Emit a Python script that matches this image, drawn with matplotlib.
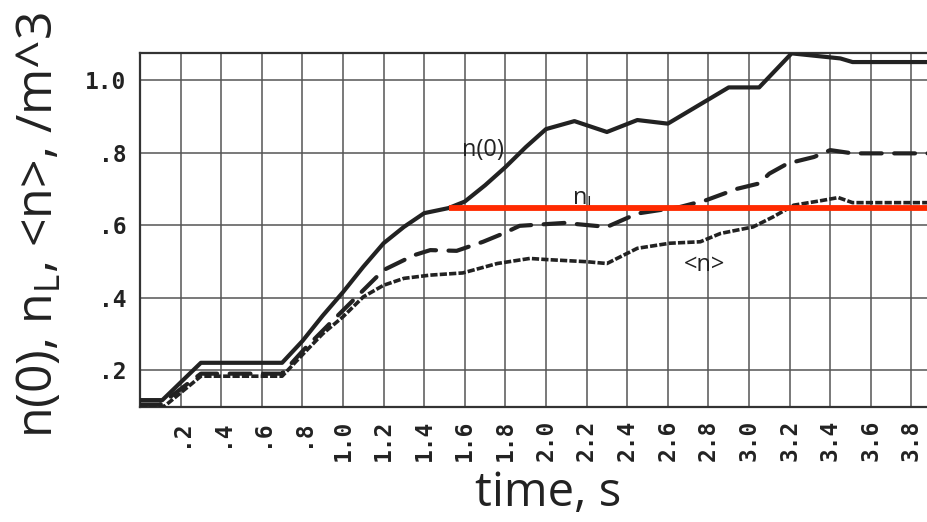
import numpy as np
import matplotlib
matplotlib.use("Agg")
from matplotlib import pyplot as plt

# values
t_n0 = [0.0, 0.11, 0.30, 0.70, 0.80, 0.90, 1.00, 1.10, 1.20, 1.30, 1.40, 1.52, 1.60, 1.70,
        1.80, 1.90, 2.00, 2.14, 2.30, 2.45, 2.60, 2.90, 3.05, 3.21, 3.45, 3.51, 3.90]
n0 = [0.117, 0.117, 0.22, 0.22, 0.28, 0.35, 0.415, 0.485, 0.55, 0.595, 0.633, 0.647, 0.665, 0.71,
      0.76, 0.815, 0.865, 0.887, 0.857, 0.89, 0.88, 0.98, 0.98, 1.074, 1.06, 1.05, 1.05]

t_mid = [0.0, 0.10, 0.30, 0.70, 0.805, 0.936, 1.067, 1.20, 1.35, 1.43, 1.56, 1.69, 1.79, 1.87,
         2.09, 2.30, 2.45, 2.66, 2.79, 2.94, 3.05, 3.10, 3.19, 3.32, 3.40, 3.51, 3.90]
n_mid = [0.105, 0.105, 0.19, 0.19, 0.255, 0.329, 0.402, 0.476, 0.517, 0.531, 0.529, 0.554, 0.577, 0.598,
         0.606, 0.595, 0.632, 0.65, 0.669, 0.70, 0.715, 0.742, 0.77, 0.788, 0.807, 0.798, 0.798]

t_avg = [0.0, 0.12, 0.30, 0.70, 0.805, 0.90, 1.00, 1.10, 1.20, 1.30, 1.43, 1.59, 1.76, 1.92,
         2.00, 2.20, 2.30, 2.45, 2.61, 2.76, 2.86, 3.02, 3.12, 3.22, 3.35, 3.44, 3.51, 3.90]
n_avg = [0.10, 0.10, 0.183, 0.183, 0.245, 0.30, 0.347, 0.402, 0.434, 0.453, 0.462, 0.468, 0.494, 0.508,
         0.505, 0.499, 0.494, 0.536, 0.55, 0.554, 0.577, 0.595, 0.623, 0.655, 0.667, 0.676, 0.662, 0.662]

t_nl = [1.52, 3.90]
n_l = [0.648, 0.648]

xticks = [0.2, 0.4, 0.6, 0.8, 1.0, 1.2, 1.4, 1.6, 1.8, 2.0, 2.2, 2.4, 2.6, 2.8, 3.0, 3.2, 3.4, 3.6, 3.8]
xlabels = [".2", ".4", ".6", ".8", "1.0", "1.2", "1.4", "1.6", "1.8", "2.0",
           "2.2", "2.4", "2.6", "2.8", "3.0", "3.2", "3.4", "3.6", "3.8"]
yticks = [0.2, 0.4, 0.6, 0.8, 1.0]
ylabels = [".2", ".4", ".6", ".8", "1.0"]

plt.rcParams['mathtext.fontset'] = 'custom'
plt.rcParams['mathtext.rm'] = 'Open Sans'
big = "Open Sans"

fig = plt.figure(figsize=(9.28, 5.22), dpi=100)
ax = fig.add_axes([140/928, 1-407/522, 1-140/928, (407-53)/522])

ax.plot(t_n0, n0, color="#222222", lw=3.0, solid_joinstyle="round", zorder=4)
ax.plot(t_mid, n_mid, color="#222222", lw=3.0, linestyle=(0, (5, 3)), dash_capstyle="round", zorder=4)
ax.plot(t_avg, n_avg, color="#222222", lw=2.6, linestyle=(0, (2, 0.6)), zorder=4)
ax.plot(t_nl, n_l, color="#ff2a00", lw=4.2, solid_capstyle="butt", zorder=5)

ax.set_xlim(0, (928-140)/203)
ax.set_ylim(0.098, 1.075)

ax.set_xticks(xticks)
ax.set_xticklabels(xlabels, rotation=90, family="DejaVu Sans Mono", weight="bold", fontsize=16.5)
ax.set_yticks(yticks)
ax.set_yticklabels(ylabels, family="DejaVu Sans Mono", weight="bold", fontsize=16.5)
ax.tick_params(axis="x", length=0, pad=9, colors="#222222")
ax.tick_params(axis="y", length=0, pad=10, colors="#222222")

ax.grid(True, color="#555555", lw=1.1)
ax.set_axisbelow(True)
for s in ["left", "top", "bottom"]:
    ax.spines[s].set_color("#333333")
    ax.spines[s].set_linewidth(1.6)
ax.spines["right"].set_visible(False)

# curve labels
ax.text(1.586, 0.79, "n(0)", family=big, fontsize=17, color="#222222", ha="left", va="baseline")
ax.text(2.128, 0.655, r"n$_\mathregular{L}$", family=big, fontsize=17, color="#222222", ha="left", va="baseline")
ax.text(2.78, 0.49, "<n>", family=big, fontsize=17, color="#222222", ha="center", va="center")

fig.text(40/928, 1-225/522, r"n(0), n$_\mathregular{L}$, <n>, /m^3", family=big, fontsize=36,
         rotation=90, ha="center", va="center", color="#222222")
fig.text(548/928, 1-506/522, "time, s", family=big, fontsize=34, ha="center", va="baseline", color="#222222")

fig.savefig("out.png", dpi=100)
